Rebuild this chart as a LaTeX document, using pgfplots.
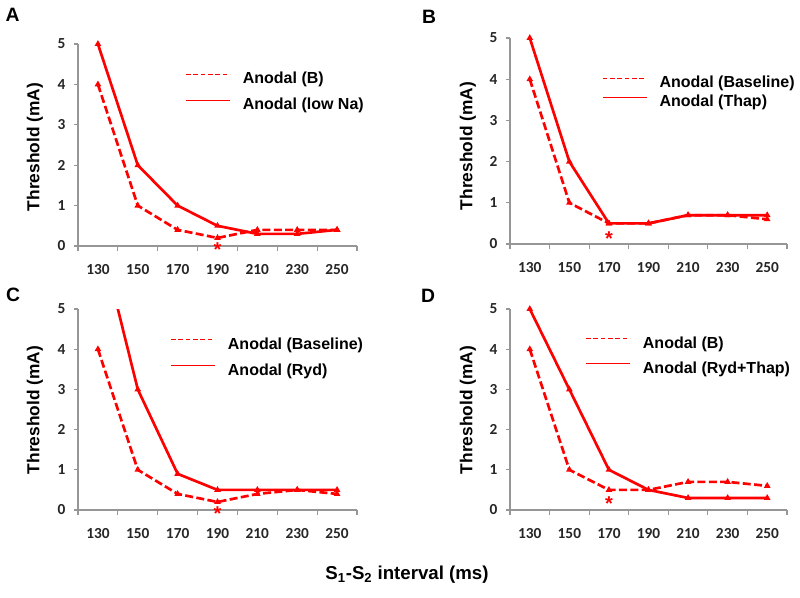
\documentclass[border=0pt]{standalone}
\usepackage{fontspec}
\setmainfont{Liberation Sans}
\newfontfamily\carlito{Carlito}
\usepackage{pgfplots}
\pgfplotsset{compat=1.18}
\definecolor{axgray}{RGB}{150,150,150}
\definecolor{myred}{RGB}{255,0,0}
\tikzset{ast/.style={text=myred, font=\bfseries\fontsize{15}{15}\selectfont, yshift=-3pt}}
\pgfplotsset{
 panel/.style={
  scale only axis, anchor=south west,
  xmin=-0.5,xmax=6.5,ymin=0,ymax=5,
  axis x line=bottom, axis y line=left,
  axis line style={-, axgray, line width=0.8pt},
  xtick={0,...,6}, xticklabels={130,150,170,190,210,230,250},
  minor xtick={-0.5,0.5,...,6.5},
  ytick={0,...,5},
  tick align=outside,
  major x tick style={draw=none},
  minor x tick style={axgray, line width=0.8pt},
  y tick style={axgray, line width=0.8pt},
  minor tick length=3.75pt, major tick length=3pt,
  tick label style={font=\carlito\bfseries\fontsize{11.5}{13}\selectfont, text=black!85},
  /pgf/number format/assume math mode=true,
  xticklabel style={yshift=-7pt},
  yticklabel style={xshift=-3pt},
  clip=false,
  legend style={draw=none, fill=none, inner sep=0pt, anchor=north west,
    font=\bfseries\fontsize{12}{14}\selectfont,
    nodes={inner sep=0pt, text height=9pt, text depth=3pt}, column sep=9pt},
  legend cell align=left,
 },
 dashedS/.style={myred, line width=2pt, dash pattern=on 6pt off 2.5pt, mark=triangle*, mark size=0.9pt, mark options={solid},
   legend image code/.code={\draw[myred, line width=1.2pt, dash pattern=on 3.5pt off 2pt] (0pt,4pt) -- (33pt,4pt);}},
 solidS/.style={myred, line width=2pt, mark=triangle*, mark size=0.9pt,
   legend image code/.code={\draw[myred, line width=1.2pt] (0pt,4pt) -- (33pt,4pt);}},
}
\begin{document}
\begin{tikzpicture}
\path[use as bounding box] (0,0) rectangle (600pt,-447.75pt);
% Panel A
\begin{axis}[panel, at={(58.5pt,-184.5pt)}, width=209.25pt, height=151.5pt,
  legend style={at={(0.3835,0.863)}, row sep=7.5pt}]
\addplot[dashedS] coordinates {(0,4) (1,1) (2,0.4) (3,0.2) (4,0.4) (5,0.4) (6,0.4)};
\addlegendentry{Anodal (B)}
\addplot[solidS] coordinates {(0,5) (1,2) (2,1) (3,0.5) (4,0.3) (5,0.3) (6,0.4)};
\addlegendentry{Anodal (low Na)}
\node[ast] at (axis cs:3,0) {*};
\end{axis}
% Panel B
\begin{axis}[panel, at={(382.5pt,-183pt)}, width=207.75pt, height=154.5pt,
  legend style={at={(0.331,0.817)}, row sep=2.25pt}]
\addplot[dashedS] coordinates {(0,4) (1,1) (2,0.5) (3,0.5) (4,0.7) (5,0.7) (6,0.6)};
\addlegendentry{Anodal (Baseline)}
\addplot[solidS] coordinates {(0,5) (1,2) (2,0.5) (3,0.5) (4,0.7) (5,0.7) (6,0.7)};
\addlegendentry{Anodal (Thap)}
\node[ast] at (axis cs:2,0.22) {*};
\end{axis}
% Panel C
\begin{axis}[panel, at={(58.5pt,-382.5pt)}, width=209.25pt, height=150.75pt,
  clip=true,
  legend style={at={(0.33,0.862)}, row sep=7.5pt}]
\addplot[dashedS] coordinates {(0,4) (1,1) (2,0.4) (3,0.2) (4,0.4) (5,0.5) (6,0.4)};
\addlegendentry{Anodal (Baseline)}
\addplot[solidS] coordinates {(0,7) (1,3) (2,0.9) (3,0.5) (4,0.5) (5,0.5) (6,0.5)};
\addlegendentry{Anodal (Ryd)}
\end{axis}
% Panel D
\begin{axis}[panel, at={(382.5pt,-382.5pt)}, width=207.75pt, height=150.75pt,
  legend style={at={(0.271,0.867)}, row sep=6.75pt}]
\addplot[dashedS] coordinates {(0,4) (1,1) (2,0.5) (3,0.5) (4,0.7) (5,0.7) (6,0.6)};
\addlegendentry{Anodal (B)}
\addplot[solidS] coordinates {(0,5) (1,3) (2,1) (3,0.5) (4,0.3) (5,0.3) (6,0.3)};
\addlegendentry{Anodal (Ryd+Thap)}
\node[ast] at (axis cs:2,0.27) {*};
\end{axis}
% asterisk for C (outside clipped axis)
\begin{axis}[scale only axis, anchor=south west, at={(58.5pt,-382.5pt)}, width=209.25pt, height=150.75pt,
  xmin=-0.5,xmax=6.5,ymin=0,ymax=5, hide axis, clip=false]
\node[ast] at (axis cs:3,0) {*};
\end{axis}
% labels
\node[font=\bfseries\fontsize{14.5}{16}\selectfont] at (9.5pt,-11.5pt) {A};
\node[font=\bfseries\fontsize{14.5}{16}\selectfont] at (321.75pt,-12.75pt) {B};
\node[font=\bfseries\fontsize{14.5}{16}\selectfont] at (9.75pt,-221.25pt) {C};
\node[font=\bfseries\fontsize{14.5}{16}\selectfont] at (321pt,-222pt) {D};
\node[rotate=90, font=\bfseries\fontsize{13}{15}\selectfont] at (26.25pt,-110.25pt) {Threshold (mA)};
\node[rotate=90, font=\bfseries\fontsize{13}{15}\selectfont] at (351pt,-109.5pt) {Threshold (mA)};
\node[rotate=90, font=\bfseries\fontsize{13}{15}\selectfont] at (26.25pt,-307.5pt) {Threshold (mA)};
\node[rotate=90, font=\bfseries\fontsize{13}{15}\selectfont] at (351pt,-307.5pt) {Threshold (mA)};
\node[font=\bfseries\fontsize{14}{15}\selectfont] at (305.25pt,-431.25pt) {S\textsubscript{1}-S\textsubscript{2} interval (ms)};
\end{tikzpicture}
\end{document}
